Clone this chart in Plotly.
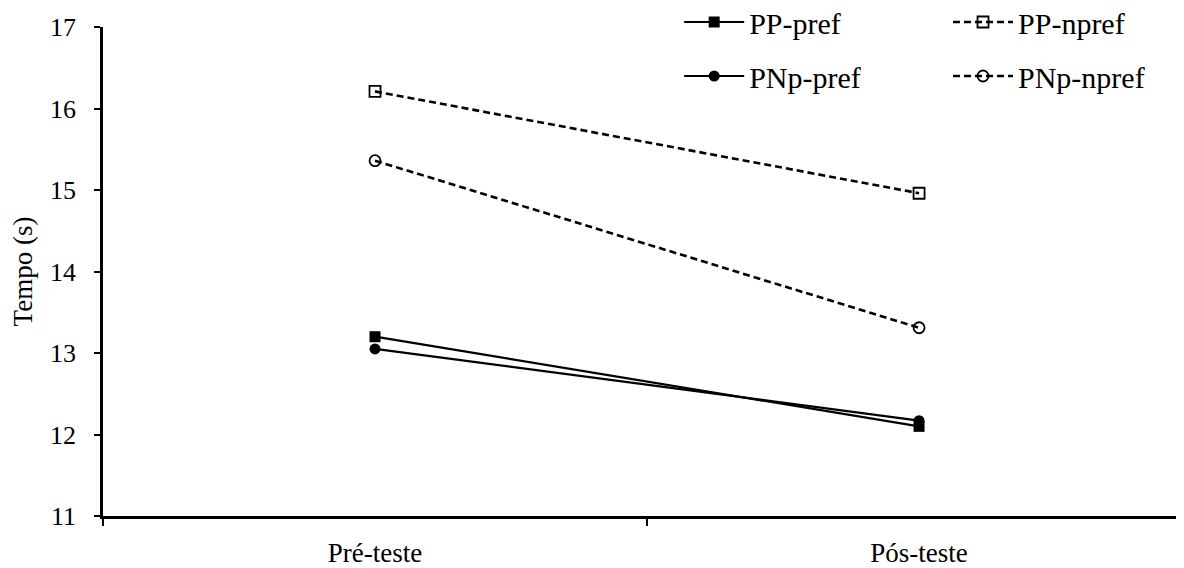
import plotly.graph_objects as go

categories = ["Pré-teste", "Pós-teste"]
pp_pref = [13.20, 12.10]
pp_npref = [16.21, 14.96]
pnp_pref = [13.05, 12.17]
pnp_npref = [15.36, 13.31]
y_ticks = [11, 12, 13, 14, 15, 16, 17]

FONT = "Times New Roman, Liberation Serif, DejaVu Serif, serif"
DASH = "7px,4px"

fig = go.Figure()
fig.add_trace(go.Scatter(x=categories, y=pp_pref, name="PP-pref", mode="lines+markers",
                         line=dict(color="black", width=2.2),
                         marker=dict(symbol="square", size=11, color="black"),
                         legend="legend", legendgroup="a"))
fig.add_trace(go.Scatter(x=categories, y=pnp_pref, name="PNp-pref", mode="lines+markers",
                         line=dict(color="black", width=2.2),
                         marker=dict(symbol="circle", size=11, color="black"),
                         legend="legend", legendgroup="b"))
fig.add_trace(go.Scatter(x=categories, y=pp_npref, name="PP-npref", mode="lines+markers",
                         line=dict(color="black", width=2.6, dash=DASH),
                         marker=dict(symbol="square-open", size=11, color="black", line=dict(width=1.8)),
                         legend="legend2", legendgroup="c"))
fig.add_trace(go.Scatter(x=categories, y=pnp_npref, name="PNp-npref", mode="lines+markers",
                         line=dict(color="black", width=2.6, dash=DASH),
                         marker=dict(symbol="circle-open", size=11, color="black", line=dict(width=1.8)),
                         legend="legend2", legendgroup="d"))

legend_common = dict(font=dict(family=FONT, size=30, color="black"), bgcolor="rgba(0,0,0,0)",
                     tracegroupgap=12, itemwidth=60, xanchor="left", yanchor="top",
                     xref="paper", yref="paper")

fig.update_layout(
    width=1184, height=568,
    paper_bgcolor="white", plot_bgcolor="white",
    margin=dict(l=95, r=8, t=19, b=60, autoexpand=False),
    font=dict(family=FONT, size=26, color="black"),
    legend=dict(x=0.533, y=1.0634, **legend_common),
    legend2=dict(x=0.7817, y=1.0634, **legend_common),
    xaxis=dict(type="category", range=[-0.5, 1.487], tickson="boundaries", automargin=False,
               showline=True, linecolor="black", linewidth=2.5,
               ticks="outside", ticklen=7, tickwidth=1.5, tickcolor="black",
               ticklabelstandoff=11, showgrid=False, zeroline=False,
               tickfont=dict(family=FONT, size=27)),
    yaxis=dict(range=[11, 17], tickvals=y_ticks, automargin=False,
               showline=True, linecolor="black", linewidth=2.5,
               ticks="outside", ticklen=6, tickwidth=1.5, tickcolor="black",
               ticklabelstandoff=13, showgrid=False, zeroline=False,
               title=dict(text="Tempo (s)", font=dict(family=FONT, size=27), standoff=10),
               tickfont=dict(family=FONT, size=26)),
)

fig.write_html("out.html")
